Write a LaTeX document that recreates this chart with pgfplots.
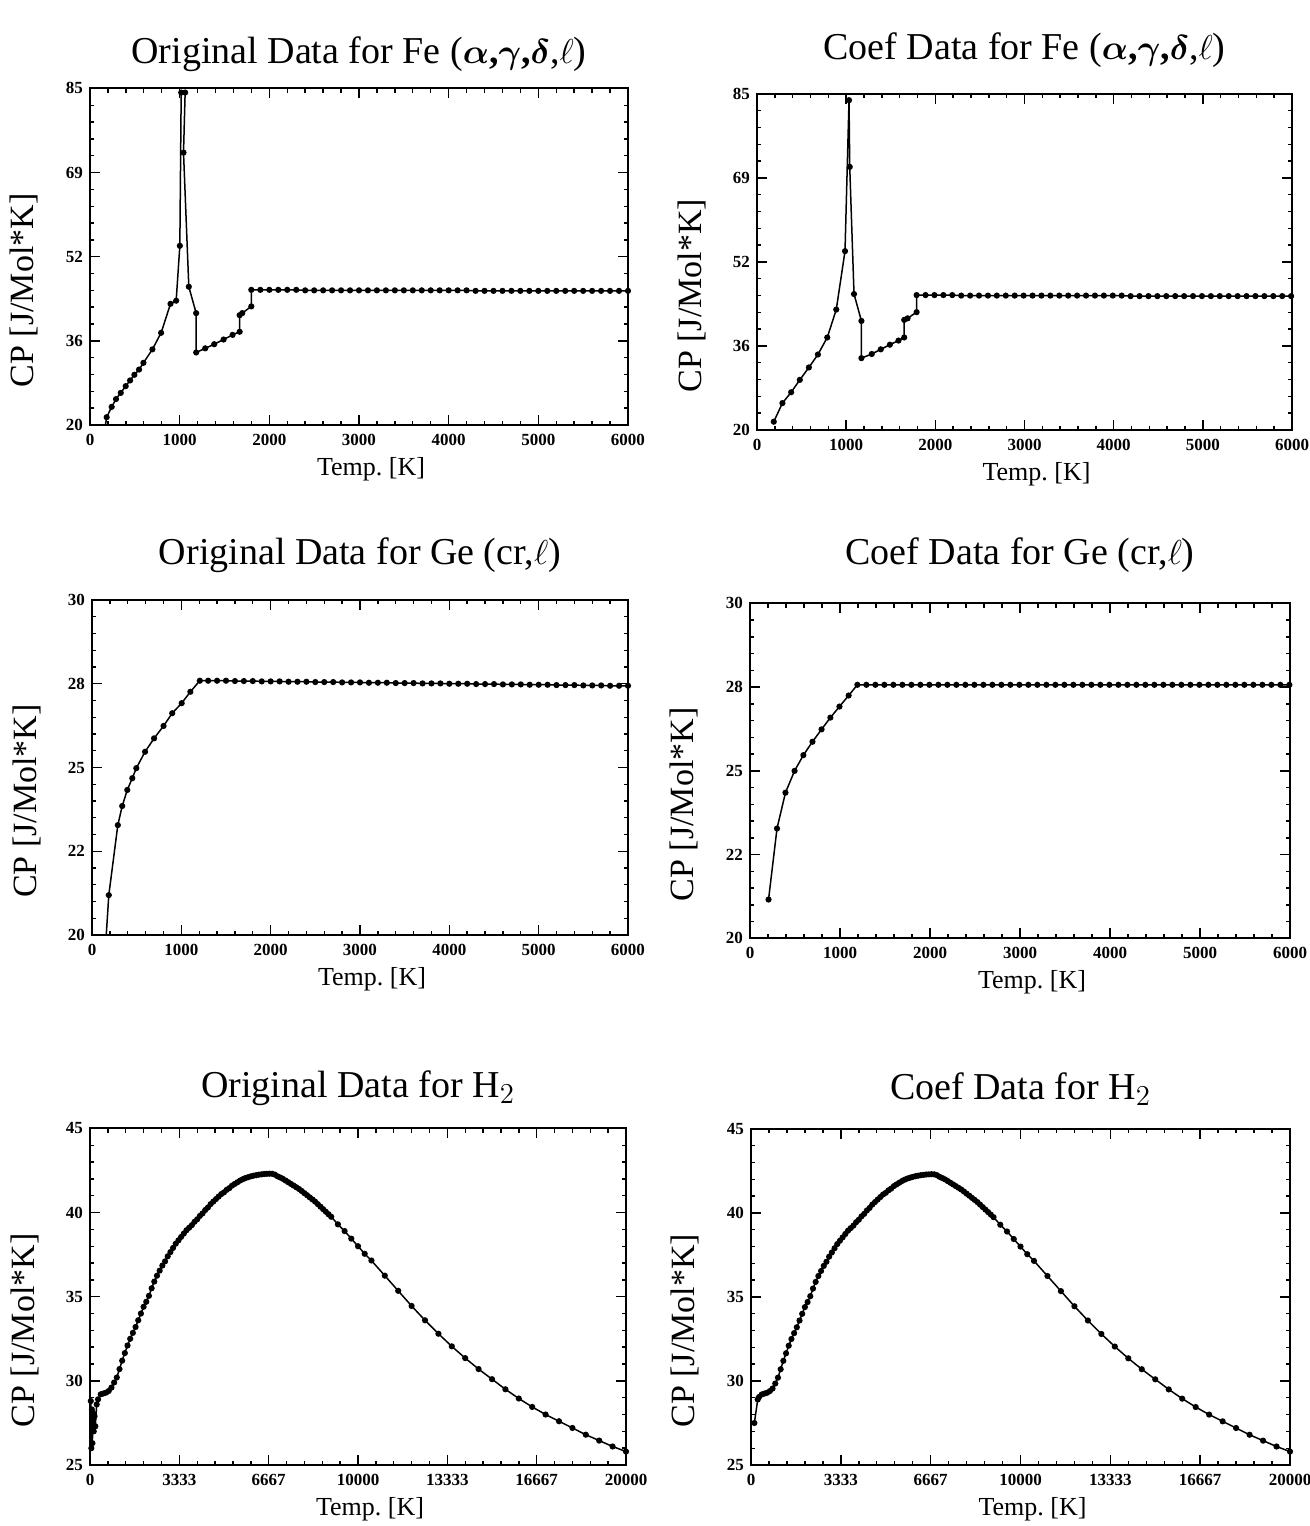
\documentclass[border=0pt]{standalone}
\usepackage{amsmath}
\usepackage{fontspec}
\setmainfont{Liberation Serif}
\usepackage{pgfplots}
\pgfplotsset{compat=1.18}
\pgfplotsset{
 panel/.style={
  scale only axis, anchor=south west,
  axis line style={line width=1.1pt},
  every tick/.style={black, line width=0.7pt},
  major tick length=5pt, minor tick length=2.2pt,
  tick align=inside,
  minor tick num=4,
  scaled x ticks=false, scaled y ticks=false,
  clip=true,
  tick label style={font=\fontsize{8.5}{9}\selectfont\bfseries},
  xticklabel style={yshift=-1pt},
  x label style={font=\fontsize{13}{15}\selectfont, yshift=1pt, xshift=6pt},
  y label style={font=\fontsize{17}{19}\selectfont, at={(axis description cs:-0.122,0.4)}, anchor=center},
  title style={font=\fontsize{19}{22}\selectfont},
  xlabel={Temp.\ [K]}, ylabel={CP [J/Mol*K]},
  every axis plot post/.append style={color=black, line width=0.75pt, mark=*, mark size=1.15pt, mark options={solid, fill=black}},
 },
 fe/.style={panel, xmin=0, xmax=6000, ymin=20, ymax=85,
  xtick={0,1000,2000,3000,4000,5000,6000}, xticklabels={0,1000,2000,3000,4000,5000,6000},
  ytick={20,36.25,52.5,68.75,85}, yticklabels={20,36,52,69,85}},
 ge/.style={panel, xmin=0, xmax=6000, ymin=20, ymax=30,
  xtick={0,1000,2000,3000,4000,5000,6000}, xticklabels={0,1000,2000,3000,4000,5000,6000},
  ytick={20,22.5,25,27.5,30}, yticklabels={20,22,25,28,30}},
 hh/.style={panel, xmin=0, xmax=20000, ymin=25, ymax=45,
  xtick={0,3333.333,6666.667,10000,13333.333,16666.667,20000}, xticklabels={0,3333,6667,10000,13333,16667,20000},
  ytick={25,30,35,40,45}, yticklabels={25,30,35,40,45}},
}
\begin{document}
\begin{tikzpicture}
\useasboundingbox (0,0) rectangle (655pt,763pt);
% ---------------- Fe original
\begin{axis}[fe, at={(45pt,550.5pt)}, width=269pt, height=168.3pt,
  title style={yshift=-1pt},
  title={Original Data for Fe (\textbf{$\boldsymbol{\alpha}$,$\boldsymbol{\gamma}$,$\boldsymbol{\delta}$},$\ell$)}]
\addplot coordinates {
(100,12.1)(186,21.5)(242,23.5)(290,25.0)(343,26.2)(398,27.5)(447,28.6)(495,29.7)(547,30.7)(596,32.0)
(696,34.6)(793,37.8)(898,43.4)(961,44.0)(1002,54.6)(1017,84.2)(1061,84.2)(1043,72.6)(1102,46.7)
(1184,41.6)(1184,34.0)(1285,34.8)(1385,35.6)(1490,36.5)(1590,37.4)(1669,38.0)(1669,41.2)(1698,41.6)
(1799,42.9)(1799,46.1)(1900,46.1)(2000,46.1)(2100,46.1)(2200,46.1)(2300,46.1)(2400,46.0)(2500,46.0)
(2600,46.0)(2700,46.0)(2800,46.0)(2900,46.0)(3000,46.0)(3100,46.0)(3200,46.0)(3300,46.0)(3400,46.0)
(3500,46.0)(3600,46.0)(3700,46.0)(3800,46.0)(3900,46.0)(4000,46.0)(4100,46.0)(4200,46.0)(4300,45.9)
(4400,45.9)(4500,45.9)(4600,45.9)(4700,45.9)(4800,45.9)(4900,45.9)(5000,45.9)(5100,45.9)(5200,45.9)
(5300,45.9)(5400,45.9)(5500,45.9)(5600,45.9)(5700,45.9)(5800,45.9)(5900,45.9)(6000,45.9)
};
\end{axis}
% ---------------- Fe coef
\begin{axis}[fe, at={(378.5pt,548pt)}, width=267.5pt, height=168pt,
  title style={yshift=3.5pt},
  title={Coef Data for Fe (\textbf{$\boldsymbol{\alpha}$,$\boldsymbol{\gamma}$,$\boldsymbol{\delta}$},$\ell$)}]
\addplot coordinates {
(188,21.6)(285,25.2)(383,27.3)(480,29.7)(582,32.1)(683,34.6)(788,37.9)(889,43.3)(987,54.6)
(1032,83.8)(1040,70.9)(1088,46.3)(1171,41.1)(1171,33.9)(1287,34.7)(1388,35.6)(1490,36.5)(1587,37.3)
(1651,37.9)(1651,41.3)(1689,41.6)(1790,42.8)(1790,46.1)(1890,46.1)(1990,46.1)(2090,46.1)(2190,46.1)
(2290,46.0)(2390,46.0)(2490,46.0)(2590,46.0)(2690,46.0)(2790,46.0)(2890,46.0)(2990,46.0)(3090,46.0)
(3190,46.0)(3290,46.0)(3390,46.0)(3490,46.0)(3590,46.0)(3690,46.0)(3790,46.0)(3890,46.0)(3990,46.0)
(4090,46.0)(4190,45.9)(4290,45.9)(4390,45.9)(4490,45.9)(4590,45.9)(4690,45.9)(4790,45.9)(4890,45.9)
(4990,45.9)(5090,45.9)(5190,45.9)(5290,45.9)(5390,45.9)(5490,45.9)(5590,45.9)(5690,45.9)(5790,45.9)
(5890,45.9)(5990,45.9)
};
\end{axis}
% ---------------- Ge original
\begin{axis}[ge, at={(46pt,295.5pt)}, width=268pt, height=167.5pt,
  title style={yshift=4pt},
  title={Original Data for Ge (cr,$\ell$)}]
\addplot coordinates {
(100,17.5)(188,21.19)(289,23.28)(338,23.85)(395,24.33)(451,24.68)(496,24.98)(594,25.47)(695,25.87)
(801,26.24)(898,26.62)(1004,26.92)(1101,27.26)(1207,27.59)(1300,27.59)(1400,27.59)(1500,27.59)
(1600,27.58)(1700,27.58)(1800,27.58)(1900,27.57)(2000,27.57)(2100,27.57)(2200,27.56)(2300,27.56)
(2400,27.56)(2500,27.55)(2600,27.55)(2700,27.55)(2800,27.54)(2900,27.54)(3000,27.54)(3100,27.53)
(3200,27.53)(3300,27.53)(3400,27.52)(3500,27.52)(3600,27.52)(3700,27.51)(3800,27.51)(3900,27.51)
(4000,27.50)(4100,27.50)(4200,27.50)(4300,27.49)(4400,27.49)(4500,27.49)(4600,27.48)(4700,27.48)
(4800,27.48)(4900,27.47)(5000,27.47)(5100,27.47)(5200,27.46)(5300,27.46)(5400,27.46)(5500,27.45)
(5600,27.45)(5700,27.45)(5800,27.44)(5900,27.44)(6000,27.44)
};
\end{axis}
% ---------------- Ge coef
\begin{axis}[ge, at={(375pt,293.8pt)}, width=270pt, height=167.5pt,
  title style={yshift=6pt},
  title={Coef Data for Ge (cr,$\ell$)}]
\addplot coordinates {
(206,21.16)(300,23.28)(394,24.35)(495,25.0)(593,25.47)(694,25.87)(795,26.24)(893,26.59)(994,26.92)
(1096,27.25)(1193,27.57)(1293,27.57)(1393,27.57)(1493,27.57)(1593,27.57)(1693,27.57)(1793,27.57)
(1893,27.57)(1993,27.57)(2093,27.57)(2193,27.57)(2293,27.57)(2393,27.57)(2493,27.57)(2593,27.57)
(2693,27.57)(2793,27.57)(2893,27.57)(2993,27.57)(3093,27.57)(3193,27.57)(3293,27.57)(3393,27.57)
(3493,27.57)(3593,27.57)(3693,27.57)(3793,27.57)(3893,27.57)(3993,27.57)(4093,27.57)(4193,27.57)
(4293,27.57)(4393,27.57)(4493,27.57)(4593,27.57)(4693,27.57)(4793,27.57)(4893,27.57)(4993,27.57)
(5093,27.57)(5193,27.57)(5293,27.57)(5393,27.57)(5493,27.57)(5593,27.57)(5693,27.57)(5793,27.57)
(5893,27.57)(5993,27.57)
};
\end{axis}
% ---------------- H2 original
\begin{axis}[hh, at={(45pt,30.5pt)}, width=268pt, height=168.3pt,
  title style={yshift=2pt},
  title={Original Data for H$_2$}]
\addplot coordinates {
(30,28.8)(50,26.0)(70,28.3)(90,26.3)(110,28.1)(140,27.0)(170,27.9)(200,27.3)(250,28.6)(300,28.9)
(400,29.2)(500,29.25)(600,29.3)(700,29.4)(800,29.6)(900,29.9)
(1000,30.2)(1100,30.7)(1200,31.2)(1300,31.65)(1400,32.1)(1500,32.5)(1600,32.85)(1700,33.2)(1800,33.6)
(1900,34.0)(2000,34.4)(2100,34.7)(2200,35.05)(2300,35.5)(2400,35.9)(2500,36.25)(2600,36.55)(2700,36.85)
(2800,37.1)(2900,37.4)(3000,37.65)(3100,37.9)(3200,38.15)(3300,38.35)(3400,38.55)(3500,38.75)(3600,38.95)
(3700,39.1)(3800,39.25)(3900,39.45)(4000,39.6)(4100,39.8)(4200,39.95)(4300,40.15)(4400,40.3)(4500,40.5)
(4600,40.65)(4700,40.8)(4800,40.95)(4900,41.1)(5000,41.2)(5100,41.35)(5200,41.45)(5300,41.6)(5400,41.7)
(5500,41.8)(5600,41.9)(5700,41.98)(5800,42.05)(5900,42.1)(6000,42.15)(6100,42.19)(6200,42.22)(6300,42.25)
(6400,42.27)(6500,42.29)(6600,42.3)(6700,42.31)(6800,42.3)(6900,42.25)(7000,42.15)(7100,42.08)(7200,42.0)
(7300,41.9)(7400,41.8)(7500,41.7)(7600,41.6)(7700,41.5)(7800,41.4)(7900,41.28)(8000,41.15)(8100,41.03)
(8200,40.9)(8300,40.78)(8400,40.65)(8500,40.5)(8600,40.35)(8700,40.2)(8800,40.05)(8900,39.9)(9000,39.75)
(9250,39.3)(9500,38.9)(9750,38.45)(10000,38.0)(10250,37.55)(10500,37.15)(11000,36.25)
(11500,35.35)(12000,34.45)(12500,33.6)(13000,32.8)(13500,32.05)(14000,31.35)(14500,30.7)(15000,30.1)
(15500,29.5)(16000,28.95)(16500,28.45)(17000,28.0)(17500,27.6)(18000,27.2)(18500,26.8)(19000,26.45)
(19500,26.1)(20000,25.8)
};
\end{axis}
% ---------------- H2 coef
\begin{axis}[hh, at={(375.5pt,30.5pt)}, width=269.5pt, height=168pt,
  title style={yshift=2pt},
  title={Coef Data for H$_2$}]
\addplot coordinates {
(125,27.5)(250,28.9)(300,29.05)(400,29.2)(500,29.25)(600,29.3)(700,29.4)(800,29.55)(900,29.85)
(1000,30.2)(1100,30.7)(1200,31.2)(1300,31.65)(1400,32.1)(1500,32.5)(1600,32.85)(1700,33.2)(1800,33.6)
(1900,34.0)(2000,34.4)(2100,34.7)(2200,35.05)(2300,35.5)(2400,35.9)(2500,36.25)(2600,36.55)(2700,36.85)
(2800,37.1)(2900,37.4)(3000,37.65)(3100,37.9)(3200,38.15)(3300,38.35)(3400,38.55)(3500,38.75)(3600,38.95)
(3700,39.1)(3800,39.25)(3900,39.45)(4000,39.6)(4100,39.8)(4200,39.95)(4300,40.15)(4400,40.3)(4500,40.5)
(4600,40.65)(4700,40.8)(4800,40.95)(4900,41.1)(5000,41.2)(5100,41.35)(5200,41.45)(5300,41.6)(5400,41.7)
(5500,41.8)(5600,41.9)(5700,41.98)(5800,42.05)(5900,42.1)(6000,42.15)(6100,42.19)(6200,42.22)(6300,42.25)
(6400,42.27)(6500,42.29)(6600,42.3)(6700,42.31)(6800,42.3)(6900,42.25)(7000,42.15)(7100,42.08)(7200,42.0)
(7300,41.9)(7400,41.8)(7500,41.7)(7600,41.6)(7700,41.5)(7800,41.4)(7900,41.28)(8000,41.15)(8100,41.03)
(8200,40.9)(8300,40.78)(8400,40.65)(8500,40.5)(8600,40.35)(8700,40.2)(8800,40.05)(8900,39.9)(9000,39.75)
(9250,39.3)(9500,38.9)(9750,38.45)(10000,38.0)(10250,37.55)(10500,37.15)(11000,36.25)
(11500,35.35)(12000,34.45)(12500,33.6)(13000,32.8)(13500,32.05)(14000,31.35)(14500,30.7)(15000,30.1)
(15500,29.5)(16000,28.95)(16500,28.45)(17000,28.0)(17500,27.6)(18000,27.2)(18500,26.8)(19000,26.45)
(19500,26.1)(20000,25.8)
};
\end{axis}
\end{tikzpicture}
\end{document}
